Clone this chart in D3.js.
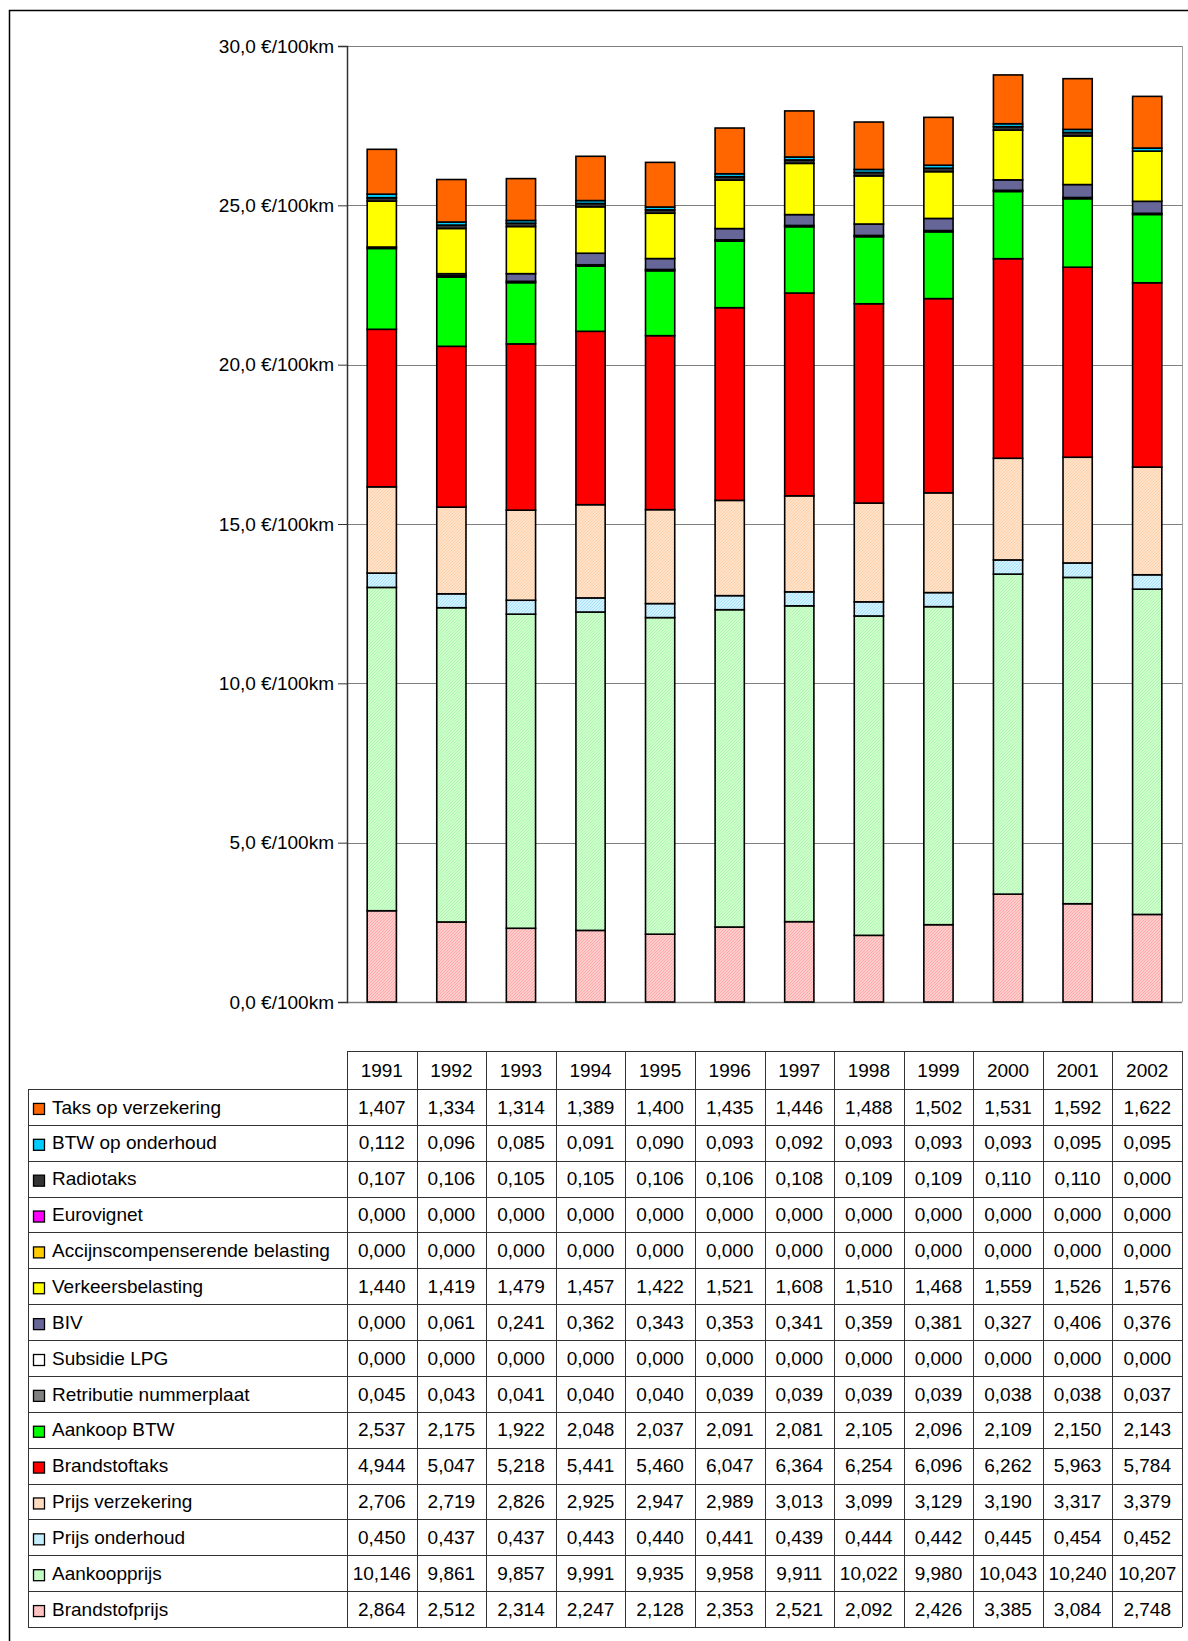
<!DOCTYPE html>
<html>
<head>
<meta charset="utf-8">
<script src="https://cdn.jsdelivr.net/npm/d3@7/dist/d3.min.js"></script>
<style>
  html, body { margin: 0; padding: 0; background: #fff; }
  svg { display: block; font-family: "Liberation Sans", Arial, sans-serif; }
</style>
</head>
<body>
<svg id="chart" width="1188" height="1641"></svg>
<script>
// Years (categories)
const years = ["1991","1992","1993","1994","1995","1996","1997","1998","1999","2000","2001","2002"];

// Cost components per year, €/100km
const taksVerzekering   = [1.407,1.334,1.314,1.389,1.400,1.435,1.446,1.488,1.502,1.531,1.592,1.622];
const btwOnderhoud      = [0.112,0.096,0.085,0.091,0.090,0.093,0.092,0.093,0.093,0.093,0.095,0.095];
const radiotaks         = [0.107,0.106,0.105,0.105,0.106,0.106,0.108,0.109,0.109,0.110,0.110,0.000];
const eurovignet        = [0,0,0,0,0,0,0,0,0,0,0,0];
const accijnscomp       = [0,0,0,0,0,0,0,0,0,0,0,0];
const verkeersbelasting = [1.440,1.419,1.479,1.457,1.422,1.521,1.608,1.510,1.468,1.559,1.526,1.576];
const biv               = [0.000,0.061,0.241,0.362,0.343,0.353,0.341,0.359,0.381,0.327,0.406,0.376];
const subsidieLpg       = [0,0,0,0,0,0,0,0,0,0,0,0];
const retributie        = [0.045,0.043,0.041,0.040,0.040,0.039,0.039,0.039,0.039,0.038,0.038,0.037];
const aankoopBtw        = [2.537,2.175,1.922,2.048,2.037,2.091,2.081,2.105,2.096,2.109,2.150,2.143];
const brandstoftaks     = [4.944,5.047,5.218,5.441,5.460,6.047,6.364,6.254,6.096,6.262,5.963,5.784];
const prijsVerzekering  = [2.706,2.719,2.826,2.925,2.947,2.989,3.013,3.099,3.129,3.190,3.317,3.379];
const prijsOnderhoud    = [0.450,0.437,0.437,0.443,0.440,0.441,0.439,0.444,0.442,0.445,0.454,0.452];
const aankoopprijs      = [10.146,9.861,9.857,9.991,9.935,9.958,9.911,10.022,9.980,10.043,10.240,10.207];
const brandstofprijs    = [2.864,2.512,2.314,2.247,2.128,2.353,2.521,2.092,2.426,3.385,3.084,2.748];

// Legend / table order (top to bottom); stacking runs the reverse way
const seriesNames = ["Taks op verzekering","BTW op onderhoud","Radiotaks","Eurovignet",
  "Accijnscompenserende belasting","Verkeersbelasting","BIV","Subsidie LPG",
  "Retributie nummerplaat","Aankoop BTW","Brandstoftaks","Prijs verzekering",
  "Prijs onderhoud","Aankoopprijs","Brandstofprijs"];
const seriesValues = [taksVerzekering, btwOnderhoud, radiotaks, eurovignet, accijnscomp,
  verkeersbelasting, biv, subsidieLpg, retributie, aankoopBtw, brandstoftaks,
  prijsVerzekering, prijsOnderhoud, aankoopprijs, brandstofprijs];

// Y-axis ticks
const yTicks = [0, 5, 10, 15, 20, 25, 30];

// Fill styles
const fills = {
  "Taks op verzekering": "#FF6600",
  "BTW op onderhoud": "#00CCFF",
  "Radiotaks": "#333333",
  "Eurovignet": "#FF00FF",
  "Accijnscompenserende belasting": "#FFCC00",
  "Verkeersbelasting": "#FFFF00",
  "BIV": "#666699",
  "Subsidie LPG": "#FFFFFF",
  "Retributie nummerplaat": "#808080",
  "Aankoop BTW": "#00FF00",
  "Brandstoftaks": "#FF0000",
  "Prijs verzekering": "url(#hatch-peach)",
  "Prijs onderhoud": "url(#hatch-blue)",
  "Aankoopprijs": "url(#hatch-green)",
  "Brandstofprijs": "url(#hatch-pink)"
};
const hatches = [
  {id: "hatch-peach", bg: "#FFE2CA", fg: "#FFD0A8"},
  {id: "hatch-blue",  bg: "#D2F2FF", fg: "#A8E2FA"},
  {id: "hatch-green", bg: "#CCFFCC", fg: "#B2F5B2"},
  {id: "hatch-pink",  bg: "#FFCCCC", fg: "#FFABAB"}
];

const svg = d3.select("#chart");
const fmt3 = d => d3.format(".3f")(d).replace(".", ",");
const fmt1 = d => d3.format(".1f")(d).replace(".", ",");

// Fine diagonal hatch patterns
const defs = svg.append("defs");
hatches.forEach(h => {
  const p = defs.append("pattern").attr("id", h.id).attr("patternUnits", "userSpaceOnUse")
    .attr("width", 3).attr("height", 3);
  p.append("rect").attr("width", 3).attr("height", 3).attr("fill", h.bg);
  p.append("path").attr("d", "M0,3 L3,0 M-1,1 L1,-1 M2,4 L4,2")
    .attr("stroke", h.fg).attr("stroke-width", 1);
});

// Outer frame
svg.append("path").attr("d", "M9.5,1641 L9.5,10.5 L1190,10.5")
  .attr("fill", "none").attr("stroke", "#000").attr("stroke-width", 1.5);

// Scales
const plotLeft = 347, plotRight = 1182, plotTop = 46, plotBottom = 1002;
const x = d3.scaleBand().domain(years).range([plotLeft, plotRight]).padding(0);
const y = d3.scaleLinear().domain([0, 30]).range([plotBottom, plotTop]);
const barW = x.bandwidth() * 0.42;

// Gridlines
svg.append("g").selectAll("line").data(yTicks).join("line")
  .attr("x1", plotLeft).attr("x2", plotRight)
  .attr("y1", d => Math.round(y(d)) + 0.5).attr("y2", d => Math.round(y(d)) + 0.5)
  .attr("stroke", "#808080").attr("stroke-width", d => d === 0 ? 1.5 : 1);

// Plot right edge
svg.append("line").attr("x1", plotRight + 0.5).attr("x2", plotRight + 0.5)
  .attr("y1", plotTop).attr("y2", plotBottom).attr("stroke", "#A0A0A0");

// Stacked bars
const rows = years.map((yr, i) => {
  const r = {year: yr};
  seriesNames.forEach((n, k) => r[n] = seriesValues[k][i]);
  return r;
});
const stackKeys = seriesNames.slice().reverse();
const stacked = d3.stack().keys(stackKeys)(rows);

svg.append("g").selectAll("g").data(stacked).join("g")
  .attr("fill", d => fills[d.key])
  .selectAll("rect").data(d => d).join("rect")
  .attr("x", d => x(d.data.year) + (x.bandwidth() - barW) / 2)
  .attr("width", barW)
  .attr("y", d => y(d[1]))
  .attr("height", d => y(d[0]) - y(d[1]))
  .attr("stroke", "#000").attr("stroke-width", 1.6);

// Y axis
const yAxis = d3.axisLeft(y).tickValues(yTicks)
  .tickFormat(d => fmt1(d) + " €/100km").tickSize(9).tickPadding(4);
const ga = svg.append("g").attr("transform", `translate(${plotLeft},0)`).call(yAxis);
ga.select(".domain").attr("stroke", "#333").attr("stroke-width", 1.5);
ga.selectAll(".tick line").attr("stroke", "#333");
ga.selectAll(".tick text").attr("fill", "#000").style("font-size", "19px")
  .style("font-family", "'Liberation Sans', Arial, sans-serif");

// Data table
const headTop = 1051, rowTop = 1089, rowBottom = 1627, labelLeft = 28;
const rowY = d3.scaleBand().domain(seriesNames).range([rowTop, rowBottom]);
const table = svg.append("g");
const lineCol = "#333";

// Header cells
table.append("g").selectAll("text").data(years).join("text")
  .attr("x", d => x(d) + x.bandwidth() / 2).attr("y", (headTop + rowTop) / 2)
  .attr("dy", "0.35em").attr("text-anchor", "middle")
  .style("font-size", "19px").text(d => d);

// Horizontal rules
table.append("line").attr("x1", plotLeft).attr("x2", plotRight)
  .attr("y1", headTop + 0.5).attr("y2", headTop + 0.5).attr("stroke", lineCol);
const hLines = seriesNames.map(n => rowY(n)).concat([rowBottom]);
table.append("g").selectAll("line").data(hLines).join("line")
  .attr("x1", labelLeft).attr("x2", plotRight)
  .attr("y1", d => Math.round(d) + 0.5).attr("y2", d => Math.round(d) + 0.5)
  .attr("stroke", lineCol);

// Vertical rules
table.append("line").attr("x1", labelLeft + 0.5).attr("x2", labelLeft + 0.5)
  .attr("y1", rowTop).attr("y2", rowBottom).attr("stroke", lineCol);
const vLines = years.map(d => x(d)).concat([plotRight]);
table.append("g").selectAll("line").data(vLines).join("line")
  .attr("x1", d => Math.round(d) + 0.5).attr("x2", d => Math.round(d) + 0.5)
  .attr("y1", headTop).attr("y2", rowBottom).attr("stroke", lineCol);

// Legend keys and labels
const rowG = table.append("g").selectAll("g").data(seriesNames).join("g")
  .attr("transform", n => `translate(0,${rowY(n) + rowY.bandwidth() / 2})`);
rowG.append("rect").attr("x", 33.5).attr("y", -3.5).attr("width", 11).attr("height", 11)
  .attr("fill", n => fills[n]).attr("stroke", "#000").attr("stroke-width", 1.3);
rowG.append("text").attr("x", 52).attr("dy", "0.35em")
  .style("font-size", "19px").text(n => n);

// Value cells
rowG.each(function(n, k) {
  d3.select(this).selectAll("text.v").data(seriesValues[k]).join("text")
    .attr("class", "v")
    .attr("x", (d, i) => x(years[i]) + x.bandwidth() / 2)
    .attr("dy", "0.35em").attr("text-anchor", "middle")
    .style("font-size", "19px").text(d => fmt3(d));
});
</script>
</body>
</html>
